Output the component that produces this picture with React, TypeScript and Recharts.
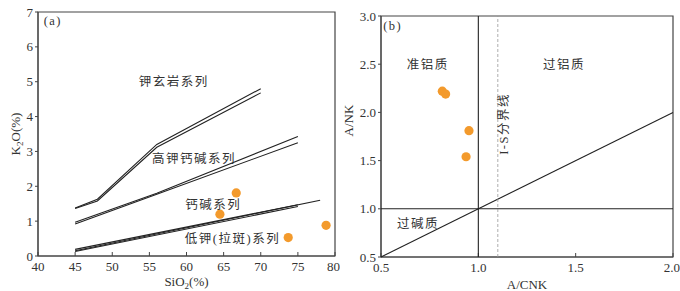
import React from 'react';
import { ScatterChart, Scatter, XAxis, YAxis, ReferenceArea, ReferenceDot } from 'recharts';

// left panel: K2O vs SiO2 boundaries
const shoshoniteUpper = [[45, 1.38], [48, 1.63], [56, 3.2], [70, 4.8]];
const shoshoniteLower = [[45, 1.36], [48, 1.58], [56, 3.12], [70, 4.68]];
const highKUpper = [[45, 0.97], [56, 1.8], [75, 3.43]];
const highKLower = [[45, 0.92], [56, 1.77], [75, 3.25]];
const lowKLong = [[45, 0.15], [78, 1.6]];
const lowKUpper = [[45, 0.19], [75, 1.47]];
const lowKLower = [[45, 0.13], [75, 1.42]];

const sampleSiO2 = [66.7, 64.5, 73.7, 78.8];
const sampleK2O = [1.81, 1.2, 0.53, 0.88];

const siO2Ticks = [40, 45, 50, 55, 60, 65, 70, 75, 80];
const k2oTicks = [0, 1, 2, 3, 4, 5, 6, 7];

// right panel: A/NK vs A/CNK
const diagonalLine = [[0.5, 0.5], [2, 2]];
const verticalLine = [[1, 0.5], [1, 3]];
const horizontalLine = [[0.5, 1], [2, 1]];
const isBoundary = [[1.1, 0.5], [1.1, 3]];

const sampleACNK = [0.815, 0.832, 0.952, 0.937];
const sampleANK = [2.22, 2.19, 1.81, 1.54];

const acnkTicks = [0.5, 1.0, 1.5, 2.0];
const ankTicks = [0.5, 1.0, 1.5, 2.0, 2.5, 3.0];

const toPts = (arr: number[][]) => arr.map(([x, y]) => ({ x, y }));
const zipPts = (xs: number[], ys: number[]) => xs.map((x, i) => ({ x, y: ys[i] }));

const FONT = "'Liberation Serif', 'Noto Sans CJK SC', serif";
const AXIS = '#444';
const DOT = '#F39A2C';
const TEXT = '#333';

const noShape = () => <g />;
const tickStyle = { fill: TEXT, fontSize: 13, fontFamily: FONT };

const boundary = (pts: number[][], key: string, extra: any = {}) => (
  <Scatter
    key={key}
    data={toPts(pts)}
    line={{ stroke: '#222', strokeWidth: 1.1, ...extra }}
    lineJointType="linear"
    shape={noShape}
    isAnimationActive={false}
  />
);

const dotShape = (p: any) => <circle cx={p.cx} cy={p.cy} r={4.6} fill={DOT} />;

const textLabel = (x: number, y: number, value: string, key: string, angle = 0) => (
  <ReferenceDot
    key={key}
    x={x}
    y={y}
    r={0}
    fill="none"
    stroke="none"
    label={{ value, position: 'center', angle, fill: TEXT, fontSize: 12.5, fontFamily: FONT, letterSpacing: 1.5 }}
  />
);

function LeftChart() {
  return (
    <ScatterChart width={340} height={291} margin={{ top: 12, right: 5, bottom: 0, left: 0 }}>
      <XAxis
        type="number"
        dataKey="x"
        domain={[40, 80]}
        ticks={siO2Ticks}
        stroke={AXIS}
        tickSize={-4}
        tickMargin={10}
        tick={tickStyle}
        height={35}
        label={{
          content: (p: any) => (
            <text x={p.viewBox.x + p.viewBox.width / 2} y={286} textAnchor="middle" fill={TEXT} fontSize={13} fontFamily={FONT}>
              SiO<tspan fontSize={9} dy={3}>2</tspan>
              <tspan dy={-3}>(%)</tspan>
            </text>
          ),
        }}
      />
      <YAxis
        type="number"
        dataKey="y"
        domain={[0, 7]}
        ticks={k2oTicks}
        stroke={AXIS}
        tickSize={3}
        tickMargin={2}
        tick={tickStyle}
        width={38}
        label={{
          content: (p: any) => {
            const cy = p.viewBox.y + p.viewBox.height / 2;
            return (
              <text x={20} y={cy} transform={`rotate(-90 20 ${cy})`} textAnchor="middle" fill={TEXT} fontSize={13} fontFamily={FONT}>
                K<tspan fontSize={9} dy={3}>2</tspan>
                <tspan dy={-3}>O(%)</tspan>
              </text>
            );
          },
        }}
      />
      <ReferenceArea x1={40} x2={80} y1={0} y2={7} fill="none" stroke={AXIS} strokeWidth={1.2} />
      {boundary(shoshoniteUpper, 's1')}
      {boundary(shoshoniteLower, 's2')}
      {boundary(highKUpper, 'h1')}
      {boundary(highKLower, 'h2')}
      {boundary(lowKLong, 'l1')}
      {boundary(lowKUpper, 'l2')}
      {boundary(lowKLower, 'l3')}
      <Scatter data={zipPts(sampleSiO2, sampleK2O)} shape={dotShape} isAnimationActive={false} />
      {textLabel(58.3, 5.0, '钾玄岩系列', 't1')}
      {textLabel(61, 2.8, '高钾钙碱系列', 't2')}
      {textLabel(63.6, 1.47, '钙碱系列', 't3')}
      {textLabel(66.2, 0.5, '低钾(拉斑)系列', 't4')}
      {textLabel(42, 6.75, '(a)', 't5')}
    </ScatterChart>
  );
}

function RightChart() {
  return (
    <ScatterChart width={340} height={291} margin={{ top: 16, right: 7, bottom: 0, left: 0 }}>
      <XAxis
        type="number"
        dataKey="x"
        domain={[0.5, 2.0]}
        ticks={acnkTicks}
        tickFormatter={(v: number) => v.toFixed(1)}
        stroke={AXIS}
        tickSize={-4}
        tickMargin={10}
        tick={tickStyle}
        height={34}
        label={{ value: 'A/CNK', position: 'insideBottom', offset: 2, fill: TEXT, fontSize: 13, fontFamily: FONT }}
      />
      <YAxis
        type="number"
        dataKey="y"
        domain={[0.5, 3.0]}
        ticks={ankTicks}
        tickFormatter={(v: number) => v.toFixed(1)}
        stroke={AXIS}
        tickSize={3}
        tickMargin={2}
        tick={tickStyle}
        width={41}
        label={{ value: 'A/NK', angle: -90, position: 'insideLeft', offset: 8, fill: TEXT, fontSize: 13, fontFamily: FONT }}
      />
      <ReferenceArea x1={0.5} x2={2.0} y1={0.5} y2={3.0} fill="none" stroke={AXIS} strokeWidth={1.2} />
      {boundary(diagonalLine, 'd')}
      {boundary(verticalLine, 'v')}
      {boundary(horizontalLine, 'h')}
      {boundary(isBoundary, 'is', { stroke: '#999', strokeWidth: 0.8, strokeDasharray: '3 2' })}
      <Scatter data={zipPts(sampleACNK, sampleANK)} shape={dotShape} isAnimationActive={false} />
      {textLabel(0.74, 2.5, '准铝质', 'r1')}
      {textLabel(1.44, 2.5, '过铝质', 'r2')}
      {textLabel(0.69, 0.85, '过碱质', 'r3')}
      {textLabel(1.13, 1.88, 'I-S分界线', 'r4', -90)}
      {textLabel(0.56, 2.9, '(b)', 'r5')}
    </ScatterChart>
  );
}

export default function App() {
  return (
    <div
      style={{
        position: 'absolute',
        left: 0,
        top: 0,
        width: 680,
        height: 291,
        background: '#fff',
        display: 'flex',
        fontFamily: FONT,
      }}
    >
      <LeftChart />
      <RightChart />
    </div>
  );
}
